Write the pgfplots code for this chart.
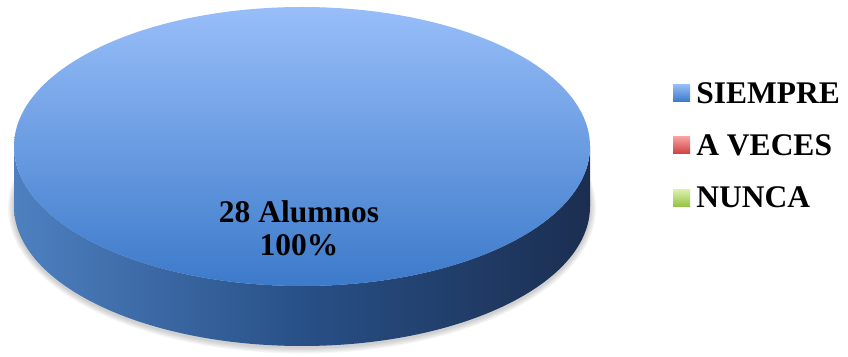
\documentclass[border=0pt]{standalone}
\usepackage{pgfplots}
\pgfplotsset{compat=1.18}
\usepackage{pgfplotstable}
\usepackage{fontspec}
\setmainfont{Liberation Serif}
\definecolor{topA}{RGB}{152,190,249}
\definecolor{topB}{RGB}{60,122,202}
\definecolor{sideA}{RGB}{78,128,192}
\definecolor{sideB}{RGB}{40,80,135}
\definecolor{sideC}{RGB}{27,46,80}
\definecolor{redA}{RGB}{248,160,160}
\definecolor{redB}{RGB}{205,65,65}
\definecolor{grnA}{RGB}{220,242,175}
\definecolor{grnB}{RGB}{150,195,70}
\pgfplotstableread[col sep=comma]{
cat,value
SIEMPRE,28
A VECES,0
NUNCA,0
}\datatable
\begin{document}
\begin{tikzpicture}
\begin{axis}[
  width=848pt, height=356pt, scale only axis, hide axis,
  xmin=0, xmax=848, ymin=0, ymax=356, clip=false,
  legend style={at={(axis cs:673,276)}, anchor=north west, draw=none, fill=none,
    font=\fontsize{31.5}{31.5}\selectfont\bfseries, row sep=26pt, inner sep=0pt,
    /tikz/every even column/.append style={column sep=6pt}},
  legend cell align=left,
]
\path (axis cs:0,0) rectangle (axis cs:848,356);
% shadow
\fill[black, opacity=0.04] (axis cs:302,148) ellipse[x radius=289.2, y radius=140.7];
\fill[black, opacity=0.04] (axis cs:302,148) ellipse[x radius=290.4, y radius=141.9];
\fill[black, opacity=0.04] (axis cs:302,148) ellipse[x radius=291.6, y radius=143.1];
\fill[black, opacity=0.04] (axis cs:302,148) ellipse[x radius=292.8, y radius=144.3];
\fill[black, opacity=0.04] (axis cs:302,148) ellipse[x radius=294.0, y radius=145.5];
% side (full 100% slice: 28 of 28)
\shade[left color=sideA, right color=sideC, middle color=sideB]
  (axis cs:14,209.5) -- (axis cs:14,149.5)
  arc[start angle=180, end angle=360, x radius=288, y radius=139.5]
  -- (axis cs:590,209.5)
  arc[start angle=0, end angle=-180, x radius=288, y radius=139.5] -- cycle;
% top face
\shade[top color=topA, bottom color=topB] (axis cs:302,209.5) ellipse[x radius=288, y radius=139.5];
\node[align=center, font=\fontsize{31.5}{33}\selectfont\bfseries] at (axis cs:299,128) {28 Alumnos\\100\%};
\addlegendimage{legend image code/.code={\shade[draw=none, top color=topA, bottom color=topB] (0pt,-8pt) rectangle (17pt,9pt); \path (21pt,0pt);}}
\addlegendentry{SIEMPRE}
\addlegendimage{legend image code/.code={\shade[draw=none, top color=redA, bottom color=redB] (0pt,-8pt) rectangle (17pt,9pt); \path (21pt,0pt);}}
\addlegendentry{A VECES}
\addlegendimage{legend image code/.code={\shade[draw=none, top color=grnA, bottom color=grnB] (0pt,-8pt) rectangle (17pt,9pt); \path (21pt,0pt);}}
\addlegendentry{NUNCA}
\end{axis}
\end{tikzpicture}
\end{document}
